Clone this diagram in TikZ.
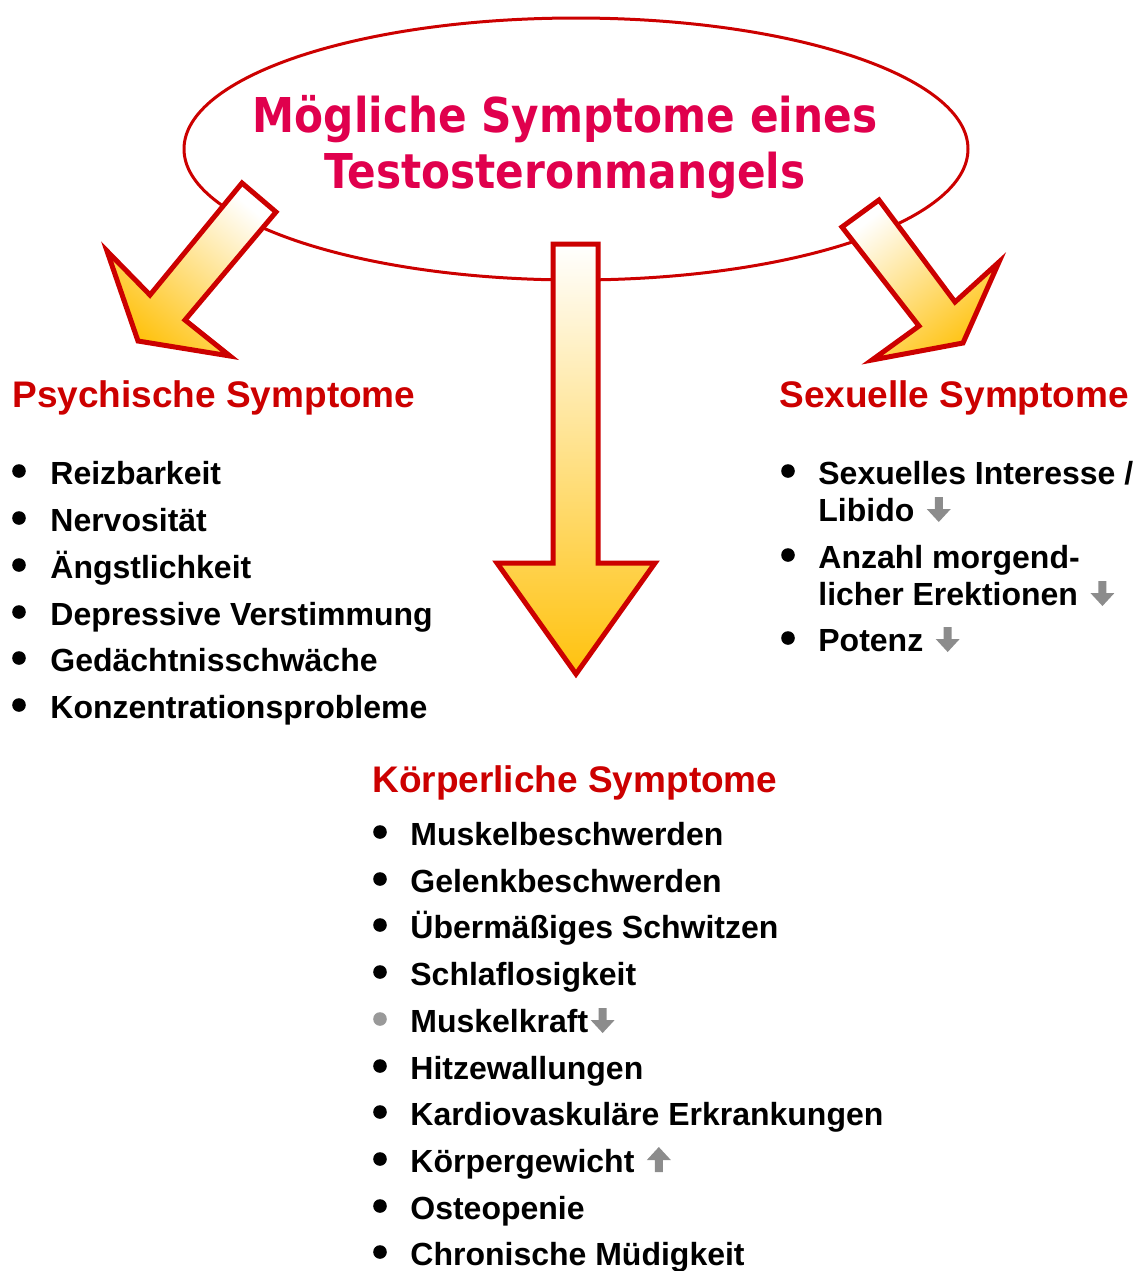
\documentclass[tikz,border=0pt]{standalone}
\usepackage{fontspec}
\setmainfont{Liberation Sans}
\newfontfamily\titlefont{DejaVu Sans}[FakeStretch=0.88]
\usepackage{tikz}
\usetikzlibrary{shapes.geometric}
\definecolor{crimson}{HTML}{E0004D}
\definecolor{redline}{HTML}{CC0000}
\definecolor{gold}{HTML}{FFC20E}
\definecolor{arrgray}{HTML}{8C8C8C}
\definecolor{dotgray}{HTML}{999999}

\begin{document}
\begin{tikzpicture}[x=0.5pt,y=-0.5pt,item/.style={anchor=base west,inner sep=0pt,font=\fontsize{16}{19}\selectfont\bfseries},head/.style={anchor=base west,inner sep=0pt,text=redline,font=\fontsize{18.5}{22}\selectfont\bfseries},dot/.style={circle,fill=black,inner sep=0pt,minimum size=6.8pt},bigarrow/.style={draw=redline,line width=2.5pt,line join=miter,shade,top color=white,bottom color=gold},dnarr/.pic={\fill[arrgray] (0,0) -- (-12,-13) -- (-4,-13) -- (-4,-25) -- (4,-25) -- (4,-13) -- (12,-13) -- cycle;},uparr/.pic={\fill[arrgray] (0,-25) -- (-12,-12) -- (-4,-12) -- (-4,0) -- (4,0) -- (4,-12) -- (12,-12) -- cycle;}]
\useasboundingbox (0,0) rectangle (1139,1271);
\node[ellipse,draw=redline,line width=1.5pt,fill=white,minimum width=392pt,minimum height=131pt,inner sep=0pt] (oval) at (576,149) {};
% the three block arrows
\draw[bigarrow,shading angle=-40] (242,183) -- (276,212) -- (185,320) -- (230,356) -- (138,341) -- (107,251) -- (150,295) -- cycle;
\draw[bigarrow] (553,244) -- (598,244) -- (598,563) -- (655,563) -- (576,674) -- (497,563) -- (553,563) -- cycle;
\draw[bigarrow,shading angle=38] (842,227) -- (879,200) -- (955,302) -- (999,262) -- (963,343) -- (872,360) -- (919,326) -- cycle;
\node[font=\titlefont\fontsize{24}{28.35}\selectfont\bfseries,text=crimson,align=center,inner sep=0pt] (title) at (565,147) {Mögliche Symptome eines\\Testosteronmangels};
% psychische Symptome
\node[head] (psyhead) at (12,407) {Psychische Symptome};
\node[dot] (bpsy1) at (19,471) {}; \node[item] (psy1) at (50,484) {Reizbarkeit};
\node[dot] (bpsy2) at (19,518) {}; \node[item] (psy2) at (50,531) {Nervosität};
\node[dot] (bpsy3) at (19,565) {}; \node[item] (psy3) at (50,578) {Ängstlichkeit};
\node[dot] (bpsy4) at (19,612) {}; \node[item] (psy4) at (50,625) {Depressive Verstimmung};
\node[dot] (bpsy5) at (19,658) {}; \node[item] (psy5) at (50,671) {Gedächtnisschwäche};
\node[dot] (bpsy6) at (19,705) {}; \node[item] (psy6) at (50,718) {Konzentrationsprobleme};
% sexuelle Symptome
\node[head] (sexhead) at (779,407) {Sexuelle Symptome};
\node[dot] (bsex1) at (788,471) {}; \node[item] (sex1) at (818,484) {Sexuelles Interesse /};
\node[item] (sex1b) at (818,521) {Libido};
\node[dot] (bsex2) at (788,555) {}; \node[item] (sex2) at (818,568) {Anzahl morgend-};
\node[item] (sex2b) at (818,605) {licher Erektionen};
\node[dot] (bsex3) at (788,638) {}; \node[item] (sex3) at (818,651) {Potenz};
\pic at ([shift={(24,1)}]sex1b.base east) {dnarr};
\pic at ([shift={(24,1)}]sex2b.base east) {dnarr};
\pic at ([shift={(24,1)}]sex3.base east) {dnarr};
% koerperliche Symptome
\node[head] (korhead) at (372,792) {Körperliche Symptome};
\node[dot] (bkor1) at (380,832) {}; \node[item] (kor1) at (410,845) {Muskelbeschwerden};
\node[dot] (bkor2) at (380,879) {}; \node[item] (kor2) at (410,892) {Gelenkbeschwerden};
\node[dot] (bkor3) at (380,925) {}; \node[item] (kor3) at (410,938) {Übermäßiges Schwitzen};
\node[dot] (bkor4) at (380,972) {}; \node[item] (kor4) at (410,985) {Schlaflosigkeit};
\node[dot,fill=dotgray] (bkor5) at (380,1019) {}; \node[item] (kor5) at (410,1032) {Muskelkraft};
\node[dot] (bkor6) at (380,1066) {}; \node[item] (kor6) at (410,1079) {Hitzewallungen};
\node[dot] (bkor7) at (380,1112) {}; \node[item] (kor7) at (410,1125) {Kardiovaskuläre Erkrankungen};
\node[dot] (bkor8) at (380,1159) {}; \node[item] (kor8) at (410,1172) {Körpergewicht};
\node[dot] (bkor9) at (380,1206) {}; \node[item] (kor9) at (410,1219) {Osteopenie};
\node[dot] (bkor10) at (380,1252) {}; \node[item] (kor10) at (410,1265) {Chronische Müdigkeit};
\pic at ([shift={(14,1)}]kor5.base east) {dnarr};
\pic at ([shift={(24,0)}]kor8.base east) {uparr};
\end{tikzpicture}
\end{document}
